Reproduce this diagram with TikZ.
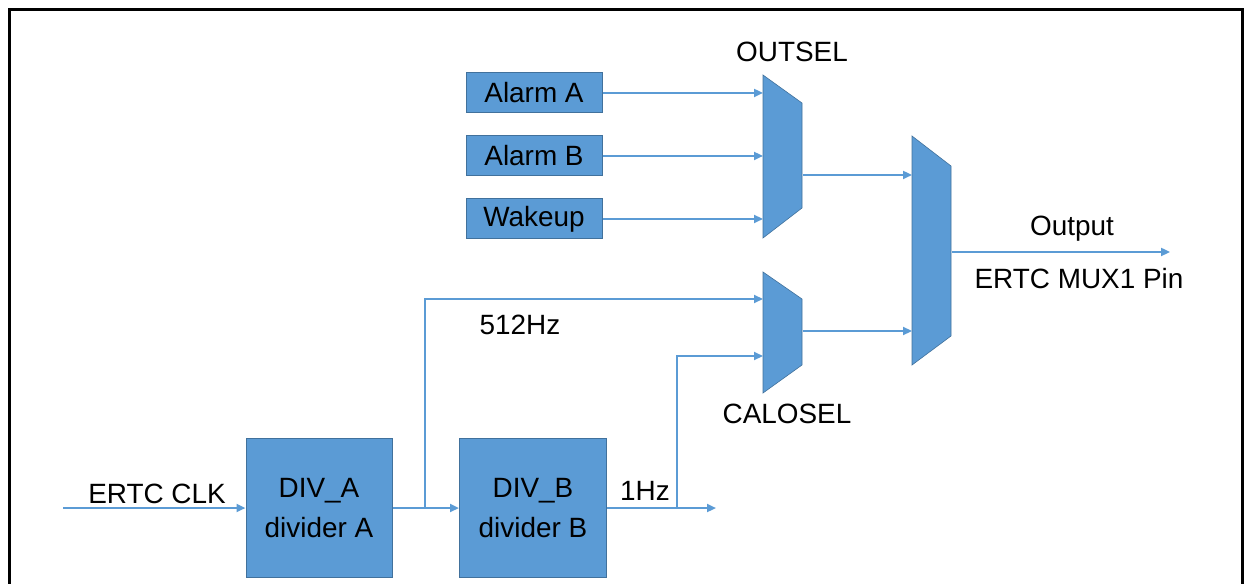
\documentclass[tikz,border=0pt]{standalone}
\usepackage{fontspec}
\setmainfont{Liberation Sans}
\usetikzlibrary{arrows.meta}
\definecolor{blockfill}{HTML}{5B9BD5}
\definecolor{blockedge}{HTML}{41719C}
\definecolor{wirecol}{HTML}{5B9BD5}
\begin{document}
\begin{tikzpicture}[x=1bp,y=-1bp,
  every node/.style={font=\fontsize{28}{40}\selectfont, inner sep=0pt},
  blockbox/.style={draw=blockedge, line width=1bp, fill=blockfill, align=center},
  muxshape/.style={draw=blockedge, line width=0.6bp, fill=blockfill},
  wire/.style={draw=wirecol, line width=2.4bp, -{Triangle[length=9bp,width=8bp]}},
  frameline/.style={draw=black, line width=3bp}]
\useasboundingbox (0,0) rectangle (1247,584);
\draw[frameline] (9,584) -- (9,10) -- (1242,10) -- (1242,584);

% source blocks
\node[blockbox, minimum width=136bp, minimum height=40bp] (alA) at (534,93) {Alarm A};
\node[blockbox, minimum width=136bp, minimum height=40bp] (alB) at (534,156) {Alarm B};
\node[blockbox, minimum width=136bp, minimum height=40bp] (wk) at (534,219) {Wakeup};
\node[blockbox, minimum width=146bp, minimum height=139bp] (divA) at (319,508) {DIV\_A\\divider A};
\node[blockbox, minimum width=147bp, minimum height=139bp] (divB) at (533,508) {DIV\_B\\divider B};

% multiplexers
\draw[muxshape] (763,75) -- (802,103) -- (802,208) -- (763,238) -- cycle;
\draw[muxshape] (763,272) -- (802,299) -- (802,365) -- (763,393) -- cycle;
\draw[muxshape] (912,136) -- (951,166) -- (951,336) -- (912,365) -- cycle;

% ports
\coordinate (o1) at (763,93);
\coordinate (o2) at (763,156);
\coordinate (o3) at (763,219);
\coordinate (oout) at (803,175);
\coordinate (c1) at (763,299);
\coordinate (c2) at (763,356);
\coordinate (cout) at (803,331);
\coordinate (m1) at (912,175);
\coordinate (m2) at (912,331);
\coordinate (mout) at (952,252);
\coordinate (pin) at (1170,252);
\coordinate (clk) at (63,508);
\coordinate (jA) at (425,508);
\coordinate (jB) at (677,508);
\coordinate (endB) at (716,508);

% connectors
\draw[wire] (alA.east) -- (o1);
\draw[wire] (alB.east) -- (o2);
\draw[wire] (wk.east) -- (o3);
\draw[wire] (clk) -- (divA.west);
\draw[wire] (divA.east) -- (divB.west);
\draw[wire] (jA) |- (c1);
\draw[wire] (divB.east) -- (endB);
\draw[wire] (jB) |- (c2);
\draw[wire] (oout) -- (m1);
\draw[wire] (cout) -- (m2);
\draw[wire] (mout) -- (pin);

% labels
\node (lout) at (792,52) {OUTSEL};
\node (lcal) at (787,414) {CALOSEL};
\node (l512) at (520,325) {512Hz};
\node (l1hz) at (645,491) {1Hz};
\node (lclk) at (157,494) {ERTC CLK};
\node (loutput) at (1072,229) {Output};
\node (lpin) at (1079,279) {ERTC MUX1 Pin};
\end{tikzpicture}
\end{document}
